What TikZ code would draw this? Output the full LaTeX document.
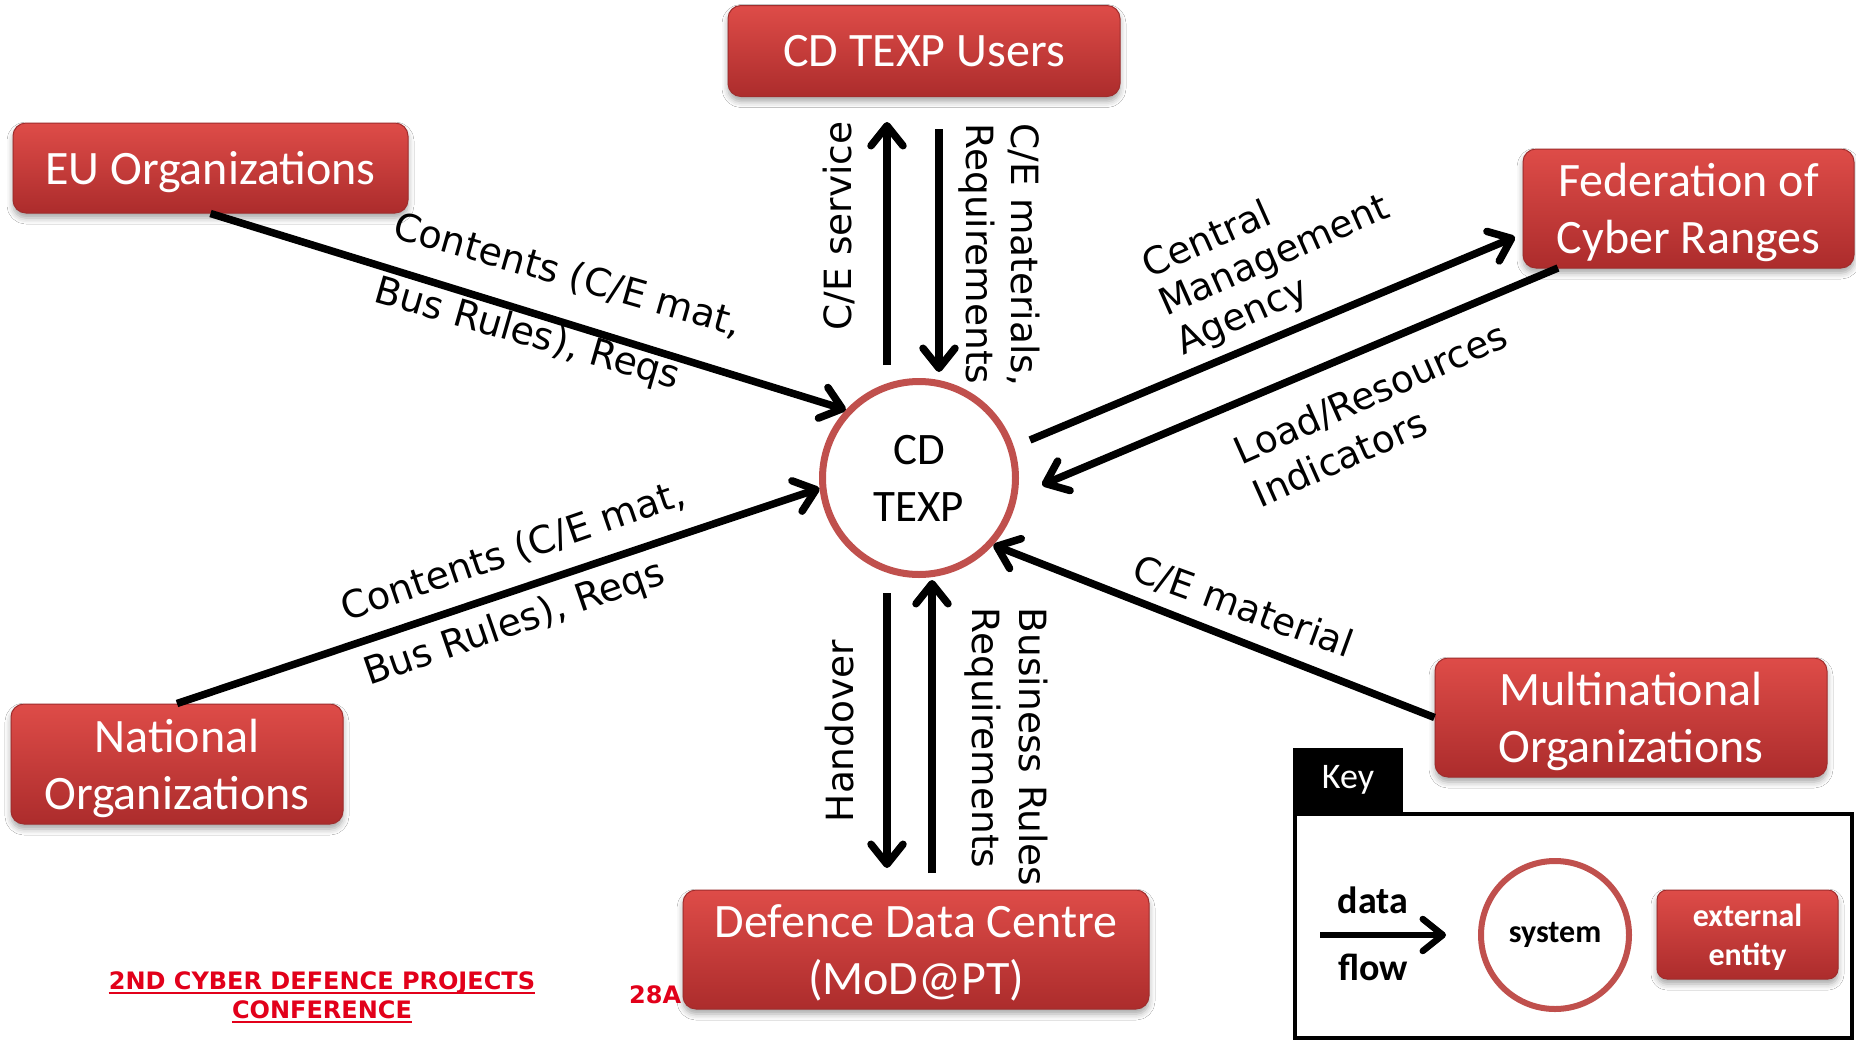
\documentclass[tikz,border=0pt]{standalone}
\usepackage{fontspec}
\setmainfont{Carlito}
\newfontfamily\lblfont{DejaVu Sans}
\usetikzlibrary{arrows.meta,shadows.blur,calc}
\definecolor{boxtop}{RGB}{222,76,72}
\definecolor{boxbot}{RGB}{172,44,44}
\definecolor{boxedge}{RGB}{160,45,45}
\definecolor{circred}{RGB}{192,80,77}
\definecolor{confred}{RGB}{226,0,26}
\begin{document}
\begin{tikzpicture}[x=1pt,y=-1pt,
  ent/.style={rectangle, rounded corners=13pt, top color=boxtop, bottom color=boxbot,
    draw=boxedge, line width=1pt, text=white, align=center, inner sep=0pt, text depth=0pt,
    font=\fontsize{48}{57}\selectfont,
    blur shadow={shadow xshift=0pt, shadow yshift=-5pt, shadow blur radius=6pt, shadow opacity=35}},
  lbl/.style={font=\lblfont\fontsize{37.5}{47}\selectfont, inner sep=0pt, align=left},
  flow/.style={line width=7.5pt, -{Straight Barb[length=20pt,width=32pt,round]}},
  conf/.style={font=\lblfont\bfseries\fontsize{24}{29}\selectfont, text=confred, inner sep=0pt}
]
\fill[white] (0,0) rectangle (1856,1042);
\useasboundingbox (0,0) rectangle (1856,1042);

% footer
\node[conf, anchor=base] (conf1) at (322,989) {2ND CYBER DEFENCE PROJECTS};
\node[conf, anchor=base] (conf2) at (322,1018) {CONFERENCE};
\draw[confred, line width=2.5pt] ($(conf1.base west)+(0,4)$) -- ($(conf1.base east)+(0,4)$);
\draw[confred, line width=2.5pt] ($(conf2.base west)+(0,4)$) -- ($(conf2.base east)+(0,4)$);
\node[conf, anchor=base west] (pg) at (629,1003) {28A};

% entities
\node[ent, minimum width=392pt, minimum height=91pt] (users) at (924,51) {CD TEXP Users};
\node[ent, minimum width=395pt, minimum height=90pt] (eu) at (210.5,168) {EU Organizations};
\node[ent, minimum width=331pt, minimum height=119pt] (fed) at (1688.5,208.5) {Federation of\\Cyber Ranges};
\node[ent, minimum width=332pt, minimum height=120pt] (nat) at (177,764) {National\\Organizations};
\node[ent, minimum width=392pt, minimum height=119pt] (multi) at (1631,717.5) {Multinational\\Organizations};
\node[ent, minimum width=466pt, minimum height=119pt] (ddc) at (916,949.5) {Defence Data Centre\\(MoD@PT)};

% system
\node[circle, draw=circred, line width=7pt, minimum size=193pt, inner sep=0pt, align=center,
  text depth=0pt, font=\fontsize{45}{57}\selectfont] (texp) at (919,478) {CD\\TEXP};

% connector end points
\coordinate (upA) at (887,365);  \coordinate (upB) at (887,122);
\coordinate (dnA) at (939,129);  \coordinate (dnB) at (939,372);
\coordinate (hoA) at (887,593);  \coordinate (hoB) at (887,868);
\coordinate (brA) at (932,873);  \coordinate (brB) at (932,580);
\coordinate (cmA) at (1030,440); \coordinate (cmB) at (1515,237);
\coordinate (lrA) at (1558,268); \coordinate (lrB) at (1042,485);

\draw[flow] (eu.south) -- (texp.137);
\draw[flow] (nat.north) -- (texp.186);
\draw[flow] (upA) -- (upB);
\draw[flow] (dnA) -- (dnB);
\draw[flow] (hoA) -- (hoB);
\draw[flow] (brA) -- (brB);
\draw[flow] (cmA) -- (cmB);
\draw[flow] (lrA) -- (lrB);
\draw[flow] (multi.west) -- (texp.-42);

% labels
\node[lbl, rotate=-16, font=\lblfont\fontsize{38}{67}\selectfont] (l1) at (558,309) {Contents (C/E mat,\\Bus Rules), Reqs};
\node[lbl, rotate=19, font=\lblfont\fontsize{38}{68}\selectfont] (l2) at (525,585) {Contents (C/E mat,\\Bus Rules), Reqs};
\node[lbl, rotate=90] (l3) at (839,226) {C/E service};
\node[lbl, rotate=-90, font=\lblfont\fontsize{37.5}{45}\selectfont] (l4) at (999.5,255) {C/E materials,\\Requirements};
\node[lbl, rotate=90] (l5) at (840,731) {Handover};
\node[lbl, rotate=-90] (l6) at (1006.5,747) {Business Rules\\Requirements};
\node[lbl, rotate=24, font=\lblfont\fontsize{37.5}{42}\selectfont] (l7) at (1275,257) {Central\\Management\\Agency};
\node[lbl, rotate=24] (l8) at (1380,414) {Load/Resources\\Indicators};
\node[lbl, rotate=-20] (l9) at (1243,607) {C/E material};

% key
\node[fill=black, text=white, minimum width=110pt, minimum height=64pt, inner sep=0pt,
  font=\fontsize{36}{40}\selectfont] (keytab) at (1348,780) {Key};
\node[draw=black, line width=4pt, minimum width=557pt, minimum height=224pt, inner sep=0pt,
  outer sep=0pt] (keybox) at (1573.5,926) {};
\coordinate (ka) at (1320,935); \coordinate (kb) at (1446,935);
\draw[flow, line width=6.5pt] (ka) -- (kb);
\node[font=\bfseries\fontsize{38}{40}\selectfont, inner sep=0pt] (kdata) at (1373,900) {data};
\node[font=\bfseries\fontsize{38}{40}\selectfont, inner sep=0pt] (kflow) at (1373,967) {flow};
\node[circle, draw=circred, line width=6pt, minimum size=148pt, inner sep=0pt,
  font=\bfseries\fontsize{32}{35}\selectfont] (ksys) at (1555,935) {system};
\node[ent, rounded corners=10pt, minimum width=181pt, minimum height=89pt,
  font=\bfseries\fontsize{32}{39}\selectfont] (kext) at (1747.5,934.5) {external\\entity};
\end{tikzpicture}
\end{document}
